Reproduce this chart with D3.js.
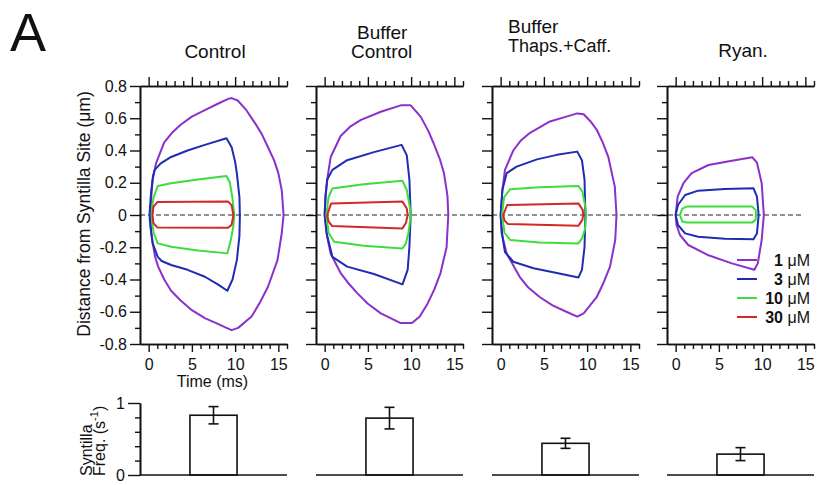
<!DOCTYPE html>
<html><head><meta charset="utf-8">
<script src="https://cdn.jsdelivr.net/npm/d3@7"></script>
<style>
body{margin:0;background:#fff;}
svg text{font-family:"Liberation Sans", Arial, Helvetica, sans-serif;fill:#111;}
</style></head>
<body><svg id="chart" width="817" height="485"></svg>
<script>
// ---------------- DATA ----------------
const panelNames = ["Control", "Buffer Control", "Buffer Thaps.+Caff.", "Ryan."];
const titleLines = [["Control"], ["Buffer", "Control"], ["Buffer", "Thaps.+Caff."], ["Ryan."]];
const concentrations = ["1", "3", "10", "30"];
const concColors = ["#8a30cc", "#1e2db4", "#3edc3e", "#d42828"];
const xTickLabels = [0, 5, 10, 15];
const yTickLabels = [-0.8, -0.6, -0.4, -0.2, 0, 0.2, 0.4, 0.6, 0.8];
const freqTickLabels = [0, 1];
const freqValues = [0.83, 0.79, 0.44, 0.29];
const freqErrors = [0.12, 0.15, 0.07, 0.09];

// contours: [time (ms), distance (um)]
const control1 = [[0.2,0],[0.3,0.11],[0.47,0.22],[0.85,0.32],[1.8,0.45],[2.7,0.51],[3.7,0.56],[5.0,0.61],[6.5,0.65],[8.0,0.69],[9.2,0.72],[9.6,0.725],[10.3,0.71],[11.3,0.65],[12.3,0.57],[13.1,0.50],[13.8,0.42],[14.5,0.34],[15.0,0.26],[15.4,0.15],[15.6,0.0],[15.4,-0.11],[14.9,-0.28],[13.8,-0.445],[12.9,-0.54],[11.9,-0.63],[10.35,-0.70],[9.6,-0.714],[9.0,-0.70],[8.0,-0.675],[6.5,-0.64],[5.0,-0.59],[3.7,-0.53],[2.6,-0.47],[1.8,-0.40],[1.1,-0.32],[0.75,-0.26],[0.45,-0.17],[0.3,-0.11]];
const control3 = [[0.1,0],[0.2,0.08],[0.3,0.15],[0.5,0.24],[0.7,0.28],[1.4,0.32],[2.6,0.36],[4.5,0.40],[6.5,0.435],[9.0,0.476],[9.6,0.42],[10.0,0.33],[10.2,0.26],[10.5,0.11],[10.55,0],[10.5,-0.13],[10.2,-0.28],[9.7,-0.40],[9.1,-0.47],[8.0,-0.43],[6.5,-0.383],[4.5,-0.34],[2.6,-0.31],[1.5,-0.285],[1.05,-0.26],[0.47,-0.176],[0.2,-0.07]];
const control10 = [[0.35,0],[0.45,0.07],[0.58,0.11],[1.05,0.18],[2.6,0.197],[5.7,0.22],[9.0,0.242],[9.4,0.2],[9.7,0.1],[9.9,0],[9.8,-0.07],[9.5,-0.155],[9.1,-0.238],[5.7,-0.22],[2.6,-0.197],[1.05,-0.176],[0.58,-0.11],[0.45,-0.06]];
const control30 = [[0.45,0],[0.55,0.05],[1.0,0.08],[9.2,0.083],[9.6,0.06],[9.8,0],[9.6,-0.06],[9.2,-0.079],[1.0,-0.077],[0.55,-0.05]];

const buffer1 = [[0.0,0],[0.1,0.11],[0.3,0.22],[0.7,0.36],[1.85,0.49],[3.0,0.55],[4.2,0.59],[6.5,0.64],[8.8,0.68],[9.95,0.68],[11.1,0.61],[12.0,0.52],[12.6,0.445],[13.3,0.35],[13.8,0.26],[14.2,0.12],[14.3,0],[14.1,-0.2],[13.4,-0.36],[12.7,-0.46],[11.9,-0.55],[11.0,-0.63],[10.1,-0.67],[8.8,-0.67],[6.5,-0.61],[5.0,-0.55],[3.8,-0.486],[2.7,-0.42],[1.85,-0.36],[0.7,-0.24],[0.2,-0.11]];
const buffer3 = [[0.0,0],[0.1,0.12],[0.3,0.22],[0.9,0.28],[2.6,0.34],[5.7,0.39],[8.9,0.435],[9.5,0.37],[9.8,0.22],[9.95,0],[9.8,-0.2],[9.6,-0.34],[9.0,-0.43],[5.7,-0.366],[2.6,-0.32],[0.9,-0.26],[0.3,-0.13]];
const buffer10 = [[0.2,0],[0.45,0.11],[0.9,0.165],[4.5,0.19],[9.0,0.213],[9.5,0.155],[9.85,0.05],[9.95,0],[9.7,-0.11],[9.4,-0.176],[9.0,-0.207],[4.5,-0.19],[1.1,-0.166],[0.45,-0.11]];
const buffer30 = [[0.3,0],[0.75,0.072],[9.0,0.083],[9.5,0.04],[9.6,0],[9.4,-0.05],[9.0,-0.083],[0.85,-0.068],[0.45,-0.04]];

const thaps1 = [[0.0,0],[0.2,0.155],[0.5,0.28],[1.46,0.40],[2.3,0.46],[3.4,0.51],[5.7,0.58],[7.6,0.61],[8.86,0.63],[9.6,0.625],[10.4,0.58],[11.1,0.53],[11.8,0.45],[12.45,0.36],[13.2,0.176],[13.4,0],[13.25,-0.155],[12.65,-0.32],[11.9,-0.42],[11.1,-0.51],[9.6,-0.61],[8.86,-0.63],[7.6,-0.60],[6.0,-0.56],[4.55,-0.51],[3.2,-0.45],[2.2,-0.383],[0.7,-0.24],[0.1,-0.11]];
const thaps3 = [[0.0,0],[0.2,0.155],[0.7,0.26],[1.85,0.30],[4.2,0.345],[6.5,0.373],[8.86,0.393],[9.4,0.34],[9.7,0.22],[9.8,0],[9.7,-0.2],[9.4,-0.34],[9.0,-0.387],[6.5,-0.36],[3.8,-0.33],[1.46,-0.29],[0.5,-0.23],[0.2,-0.13]];
const thaps10 = [[0.15,0],[0.4,0.11],[1.1,0.16],[4.5,0.172],[9.0,0.18],[9.45,0.145],[9.8,0.05],[9.9,0],[9.75,-0.09],[9.4,-0.145],[9.0,-0.176],[4.5,-0.17],[1.1,-0.155],[0.45,-0.11]];
const thaps30 = [[0.3,0],[0.75,0.062],[9.0,0.072],[9.5,0.03],[9.55,0],[9.45,-0.03],[9.0,-0.066],[0.85,-0.056],[0.45,-0.035]];

const ryan1 = [[0.0,0],[0.23,0.114],[0.9,0.197],[1.85,0.26],[3.8,0.31],[6.5,0.337],[8.86,0.358],[9.4,0.325],[9.95,0.197],[10.2,0],[9.95,-0.155],[9.5,-0.3],[9.1,-0.34],[6.5,-0.30],[3.8,-0.25],[1.46,-0.186],[0.5,-0.124],[0.1,-0.062]];
const ryan3 = [[0.0,0],[0.27,0.062],[1.1,0.124],[2.6,0.151],[5.7,0.161],[9.0,0.166],[9.4,0.114],[9.6,0],[9.4,-0.114],[9.0,-0.151],[5.7,-0.147],[2.6,-0.135],[1.1,-0.114],[0.27,-0.062]];
const ryan10 = [[0.5,0],[0.77,0.04],[1.27,0.052],[8.86,0.052],[9.25,0.03],[9.3,0],[9.25,-0.03],[8.86,-0.046],[1.27,-0.046],[0.77,-0.04]];

const contours = [
  [control1, control3, control10, control30],
  [buffer1, buffer3, buffer10, buffer30],
  [thaps1, thaps3, thaps10, thaps30],
  [ryan1, ryan3, ryan10, null]
];

// ---------------- LAYOUT ----------------
const svg = d3.select("#chart");
const panelLeft = [140, 316, 492, 667];
const panelW = 147;
const plotTop = 86, plotBottom = 344;
const barTop = 403, barBottom = 475;
const titlePos = [
  [{x: 215, y: 58, a: "middle", s: 19}],
  [{x: 357, y: 39, a: "start", s: 19}, {x: 351, y: 58, a: "start", s: 19}],
  [{x: 508, y: 33, a: "start", s: 19}, {x: 508, y: 52, a: "start", s: 18}],
  [{x: 743, y: 57, a: "middle", s: 19}]
];
const fmt = d => d === 0 ? "0" : d3.format(".1f")(d).replace("\u2212", "-");

const y = d3.scaleLinear().domain([-0.8, 0.8]).range([plotBottom, plotTop]);
const yb = d3.scaleLinear().domain([0, 1]).range([barBottom, barTop]);
const xScales = panelLeft.map(l => d3.scaleLinear().domain([-1, 16]).range([l, l + panelW]));

function styleAxis(g) {
  g.selectAll("path.domain").attr("stroke", "#111").attr("stroke-width", 1.6);
  g.selectAll(".tick line").attr("stroke", "#111").attr("stroke-width", 1.4);
  g.selectAll(".tick text").attr("font-size", 16).attr("fill", "#111")
    .attr("font-family", "Liberation Sans, Arial, sans-serif");
}

// dashed zero line across panels
svg.append("line")
  .attr("x1", xScales[0](-1)).attr("x2", xScales[3](14.7))
  .attr("y1", y(0)).attr("y2", y(0))
  .attr("stroke", "#6e6e6e").attr("stroke-width", 1.4)
  .attr("stroke-dasharray", "5,3");

panelNames.forEach((name, i) => {
  const x = xScales[i];
  const g = svg.append("g");

  // contours
  const line = d3.line().x(d => x(d[0])).y(d => y(d[1])).curve(d3.curveLinearClosed);
  contours[i].forEach((c, k) => {
    if (!c) return;
    g.append("path").attr("d", line(c)).attr("fill", "none")
      .attr("stroke", concColors[k]).attr("stroke-width", 2).attr("stroke-linejoin", "round");
  });

  // left axis
  const yMajor = g.append("g").attr("transform", `translate(${panelLeft[i]},0)`)
    .call(d3.axisLeft(y).tickValues(yTickLabels).tickSize(10).tickSizeOuter(0).tickPadding(3)
      .tickFormat(i === 0 ? fmt : ""));
  styleAxis(yMajor);
  const yMinor = g.append("g").attr("transform", `translate(${panelLeft[i]},0)`)
    .call(d3.axisLeft(y).tickValues(d3.range(-7, 8, 2).map(k => k / 10)).tickSize(5).tickSizeOuter(0).tickFormat(""));
  styleAxis(yMinor);

  // top axis
  const minorX = d3.range(1, 17).filter(k => k % 5 !== 0);
  const tMaj = g.append("g").attr("transform", `translate(0,${plotTop})`)
    .call(d3.axisTop(x).tickValues(xTickLabels).tickSize(9).tickSizeOuter(0).tickFormat(""));
  styleAxis(tMaj);
  const tMin = g.append("g").attr("transform", `translate(0,${plotTop})`)
    .call(d3.axisTop(x).tickValues(minorX).tickSize(5).tickSizeOuter(0).tickFormat(""));
  styleAxis(tMin);

  // bottom axis
  const bMaj = g.append("g").attr("transform", `translate(0,${plotBottom})`)
    .call(d3.axisBottom(x).tickValues(xTickLabels).tickSize(8).tickSizeOuter(0).tickPadding(7));
  styleAxis(bMaj);
  const bMin = g.append("g").attr("transform", `translate(0,${plotBottom})`)
    .call(d3.axisBottom(x).tickValues(minorX).tickSize(5).tickSizeOuter(0).tickFormat(""));
  styleAxis(bMin);

  // titles
  titleLines[i].forEach((t, j) => {
    const p = titlePos[i][j];
    svg.append("text").attr("x", p.x).attr("y", p.y).attr("text-anchor", p.a)
      .attr("font-size", p.s).text(t);
  });

  // bar chart
  const xb = d3.scaleBand().domain([name]).range([panelLeft[i], panelLeft[i] + panelW])
    .paddingInner(0).paddingOuter(1.06);
  const bg = svg.append("g");
  bg.append("rect")
    .attr("x", xb(name)).attr("width", xb.bandwidth())
    .attr("y", yb(freqValues[i])).attr("height", yb(0) - yb(freqValues[i]))
    .attr("fill", "#fff").attr("stroke", "#111").attr("stroke-width", 1.6);
  const cx = xb(name) + xb.bandwidth() / 2;
  bg.append("line").attr("x1", cx).attr("x2", cx)
    .attr("y1", yb(freqValues[i] - freqErrors[i])).attr("y2", yb(freqValues[i] + freqErrors[i]))
    .attr("stroke", "#111").attr("stroke-width", 1.6);
  [freqValues[i] - freqErrors[i], freqValues[i] + freqErrors[i]].forEach(v => {
    bg.append("line").attr("x1", cx - 5).attr("x2", cx + 5).attr("y1", yb(v)).attr("y2", yb(v))
      .attr("stroke", "#111").attr("stroke-width", 1.6);
  });
  bg.append("line").attr("x1", panelLeft[i]).attr("x2", panelLeft[i] + panelW)
    .attr("y1", yb(0)).attr("y2", yb(0)).attr("stroke", "#111").attr("stroke-width", 1.6);
  if (i === 0) {
    const ybMaj = bg.append("g").attr("transform", `translate(${panelLeft[i]},0)`)
      .call(d3.axisLeft(yb).tickValues(freqTickLabels).tickSize(12).tickSizeOuter(0).tickPadding(3).tickFormat(d3.format("d")));
    styleAxis(ybMaj);
    const ybMin = bg.append("g").attr("transform", `translate(${panelLeft[i]},0)`)
      .call(d3.axisLeft(yb).tickValues([0.2, 0.4, 0.6, 0.8]).tickSize(5).tickSizeOuter(0).tickFormat(""));
    styleAxis(ybMin);
  }
});

// axis titles
svg.append("text").attr("transform", "translate(90,214) rotate(-90)")
  .attr("text-anchor", "middle").attr("font-size", 17.5)
  .text("Distance from Syntilla Site (\u03bcm)");
svg.append("text").attr("x", (panelLeft[0] * 2 + panelW) / 2 - 1).attr("y", 387)
  .attr("text-anchor", "middle").attr("font-size", 16).text("Time (ms)");
svg.append("text").attr("transform", "translate(92,476) rotate(-90)")
  .attr("text-anchor", "start").attr("font-size", 16).text("Syntilla");
const fq = svg.append("text").attr("transform", "translate(105,476) rotate(-90)")
  .attr("text-anchor", "start").attr("font-size", 16);
fq.append("tspan").text("Freq. (s");
fq.append("tspan").attr("dy", -7).attr("font-size", 11).text("-1");
fq.append("tspan").attr("dy", 7).text(")");

// panel letter
svg.append("text").attr("x", 10).attr("y", 51).attr("font-size", 54).text("A");

// legend
const legX1 = 737, legX2 = 757, legTextX = 810, legY0 = 260, legDY = 19;
concentrations.forEach((c, k) => {
  const yy = legY0 + k * legDY;
  svg.append("line").attr("x1", legX1).attr("x2", legX2).attr("y1", yy).attr("y2", yy)
    .attr("stroke", concColors[k]).attr("stroke-width", 2);
  const t = svg.append("text").attr("x", legTextX).attr("y", yy + 5.5)
    .attr("text-anchor", "end").attr("font-size", 16);
  t.append("tspan").attr("font-weight", "bold").text(c);
  t.append("tspan").text(" \u03bcM");
});
</script>
</body></html>
